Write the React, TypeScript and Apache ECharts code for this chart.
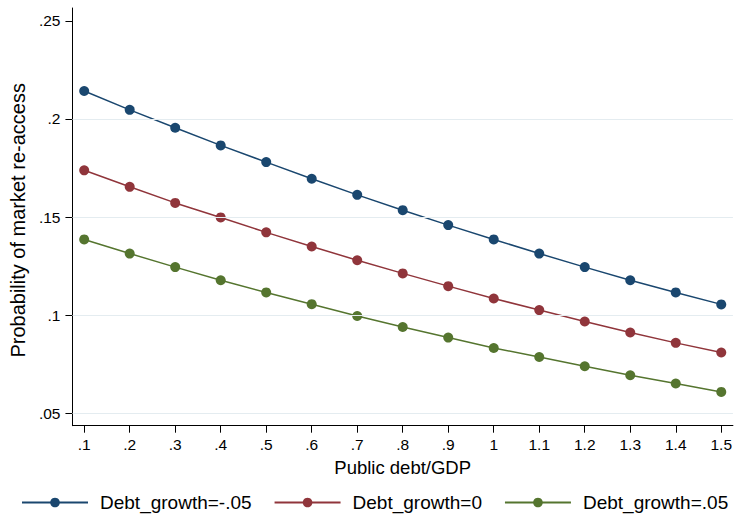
import React, { useEffect, useRef } from "react";
import * as echarts from "echarts";

const debtGdp = [0.1, 0.2, 0.3, 0.4, 0.5, 0.6, 0.7, 0.8, 0.9, 1.0, 1.1, 1.2, 1.3, 1.4, 1.5];
const growthNeg05 = [0.2142, 0.2046, 0.1955, 0.1865, 0.178, 0.1695, 0.1613, 0.1535, 0.1459, 0.1386, 0.1314, 0.1245, 0.1178, 0.1116, 0.1055];
const growth0 = [0.1738, 0.1654, 0.1572, 0.1498, 0.1422, 0.135, 0.128, 0.1213, 0.1148, 0.1085, 0.1026, 0.0968, 0.0912, 0.0859, 0.081];
const growth05 = [0.1386, 0.1314, 0.1245, 0.1178, 0.1116, 0.1056, 0.0996, 0.094, 0.0886, 0.0833, 0.0787, 0.074, 0.0694, 0.0652, 0.0609];
const seriesNames = ["Debt_growth=-.05", "Debt_growth=0", "Debt_growth=.05"];
const xTicks = [0.1, 0.2, 0.3, 0.4, 0.5, 0.6, 0.7, 0.8, 0.9, 1, 1.1, 1.2, 1.3, 1.4, 1.5];
const yTicks = [0.05, 0.1, 0.15, 0.2, 0.25];
const yGridLines = [0.05, 0.1, 0.15, 0.2];

const colors = ["#1a476f", "#90353b", "#55752f"];
const FONT = "'Liberation Sans', Arial, Helvetica, sans-serif";

const fmt = (v: number) => {
  const s = String(Math.round(v * 1000) / 1000);
  return s.replace(/^0\./, ".");
};

export default function App() {
  const ref = useRef<HTMLDivElement>(null);
  useEffect(() => {
    if (!ref.current) return;
    const chart = echarts.init(ref.current, undefined, { renderer: "svg" });
    const mk = (name: string, vals: number[], i: number) => ({
      name,
      type: "line",
      data: debtGdp.map((x, k) => [x, vals[k]]),
      symbol: "circle",
      symbolSize: 10,
      color: colors[i],
      lineStyle: { width: 1.5, color: colors[i] },
      itemStyle: { color: colors[i] },
      z: 3,
    });
    chart.setOption({
      animation: false,
      backgroundColor: "#ffffff",
      textStyle: { fontFamily: FONT },
      grid: { left: 70.5, right: 0, top: 8, bottom: 90.3, containLabel: false },
      legend: {
        data: seriesNames,
        left: 21,
        top: 493,
        padding: 0,
        itemWidth: 66,
        itemHeight: 12,
        itemGap: 22,
        textStyle: { fontFamily: FONT, fontSize: 19, color: "#000", padding: [0, 0, 0, 7] },
      },
      xAxis: {
        type: "value",
        min: 0.0742,
        max: 1.5256,
        name: "Public debt/GDP",
        nameLocation: "middle",
        nameGap: 24,
        nameTextStyle: { fontFamily: FONT, fontSize: 18.5, color: "#000" },
        axisLine: { show: true, onZero: false, lineStyle: { color: "#000", width: 1 } },
        axisTick: { show: true, length: 7, lineStyle: { color: "#000" }, customValues: xTicks },
        axisLabel: { fontFamily: FONT, fontSize: 15.5, color: "#000", margin: 11, formatter: fmt, customValues: xTicks },
        splitLine: { show: false },
      },
      yAxis: {
        type: "value",
        min: 0.0437,
        max: 0.2565,
        name: "Probability of market re-access",
        nameLocation: "middle",
        nameGap: 40,
        nameTextStyle: { fontFamily: FONT, fontSize: 20, color: "#000", padding: [0, 7, 0, 0] },
        axisLine: { show: true, onZero: false, lineStyle: { color: "#000", width: 1 } },
        axisTick: { show: true, length: 7, lineStyle: { color: "#000" }, customValues: yTicks },
        axisLabel: { fontFamily: FONT, fontSize: 15.5, color: "#000", margin: 12, formatter: fmt, customValues: yTicks },
        splitLine: { show: false },
      },
      series: [
        {
          name: "grid",
          type: "line",
          data: [],
          z: 1,
          markLine: {
            silent: true,
            symbol: "none",
            label: { show: false },
            lineStyle: { color: "#e4ecf0", type: "solid", width: 1.2 },
            data: yGridLines.map((v) => ({ yAxis: v })),
          },
        },
        mk(seriesNames[0], growthNeg05, 0),
        mk(seriesNames[1], growth0, 1),
        mk(seriesNames[2], growth05, 2),
      ],
    });
    return () => chart.dispose();
  }, []);
  return (
    <div
      ref={ref}
      style={{ position: "fixed", left: 0, top: 0, width: 735, height: 516, background: "#fff" }}
    />
  );
}
